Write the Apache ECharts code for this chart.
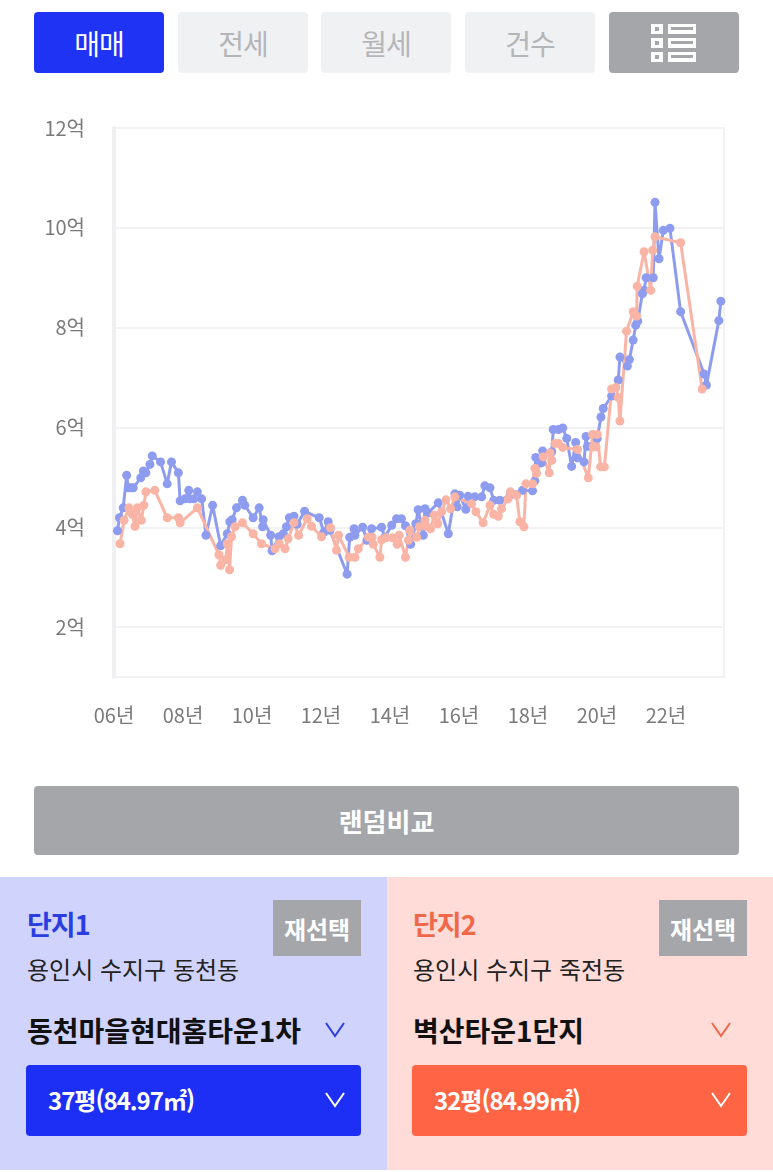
<!DOCTYPE html>
<html lang="ko">
<head>
<meta charset="utf-8">
<title>단지 비교</title>
<script src="https://cdn.jsdelivr.net/npm/echarts@6/dist/echarts.min.js"></script>
<style>
  html, body { margin: 0; padding: 0; background: #fff; }
  body { position: relative; width: 773px; height: 1172px; overflow: hidden;
         font-family: "Noto Sans CJK KR", "Noto Sans", sans-serif; }
  .abs { position: absolute; }
  .btn { position: absolute; display: flex; align-items: center; justify-content: center;
         border-radius: 4px; box-sizing: border-box; }
  .tab { top: 12px; width: 130px; height: 61px; font-size: 28px; background: #f0f1f3; color: #b4b5b8; letter-spacing: -1px; }
  .tab.on { background: #1f33f5; color: #fff; }
  .gray { background: #a5a6a9; color: #fff; font-weight: 700; }
  .row { position: absolute; white-space: nowrap; line-height: 1; }
  .chev { position: absolute; }
  #chart { position: absolute; left: 0; top: 90px; width: 773px; height: 680px; }
</style>
</head>
<body>
<div class="btn tab on" style="left:34px">매매</div>
<div class="btn tab" style="left:178px">전세</div>
<div class="btn tab" style="left:321px">월세</div>
<div class="btn tab" style="left:465px">건수</div>
<div class="btn gray" style="left:609px;top:12px;width:130px;height:61px"></div>
<svg class="abs" style="left:651px;top:24px" width="46" height="38">
  <g fill="#fff">
    <rect x="0" y="0" width="12" height="10"/><rect x="0" y="14" width="12" height="10"/><rect x="0" y="28" width="12" height="10"/>
    <rect x="17" y="0" width="28" height="10"/><rect x="17" y="14" width="28" height="10"/><rect x="17" y="28" width="28" height="10"/>
  </g>
  <g fill="#a5a6a9">
    <rect x="4" y="3" width="4" height="4"/><rect x="4" y="17" width="4" height="4"/><rect x="4" y="31" width="4" height="4"/>
    <rect x="20" y="3" width="22" height="3"/><rect x="20" y="17" width="22" height="3"/><rect x="20" y="31" width="22" height="3"/>
  </g>
</svg>

<div id="chart"></div>

<div class="btn gray" style="left:34px;top:786px;width:705px;height:69px;font-size:26px">랜덤비교</div>

<div class="abs" style="left:0;top:877px;width:387px;height:293px;background:#d0d3fc"></div>
<div class="abs" style="left:387px;top:877px;width:386px;height:293px;background:#ffdcd7"></div>

<div class="row" style="left:27px;top:910px;font-size:27px;font-weight:700;color:#2a3ee0;letter-spacing:-1px">단지1</div>
<div class="btn gray" style="left:273px;top:900px;width:88px;height:56px;font-size:24px;border-radius:0">재선택</div>
<div class="row" style="left:27px;top:957px;font-size:24px;color:#222">용인시 수지구 동천동</div>
<div class="row" style="left:27px;top:1016px;font-size:28px;font-weight:700;color:#111">동천마을현대홈타운1차</div>
<svg class="chev" style="left:325px;top:1022px" width="20" height="16"><polyline points="1,1 10,14 19,1" fill="none" stroke="#2a3ee0" stroke-width="2"/></svg>
<div class="btn" style="left:26px;top:1065px;width:335px;height:71px;background:#1d2ff5"></div>
<div class="row" style="left:48px;top:1088px;font-size:24px;font-weight:700;color:#fff;letter-spacing:-1px">37평(84.97㎡)</div>
<svg class="chev" style="left:325px;top:1092px" width="20" height="16"><polyline points="1,1 10,14 19,1" fill="none" stroke="#fff" stroke-width="2"/></svg>

<div class="row" style="left:413px;top:910px;font-size:27px;font-weight:700;color:#f0684a;letter-spacing:-1px">단지2</div>
<div class="btn gray" style="left:659px;top:900px;width:88px;height:56px;font-size:24px;border-radius:0">재선택</div>
<div class="row" style="left:413px;top:957px;font-size:24px;color:#222">용인시 수지구 죽전동</div>
<div class="row" style="left:413px;top:1016px;font-size:28px;font-weight:700;color:#111">벽산타운1단지</div>
<svg class="chev" style="left:711px;top:1022px" width="20" height="16"><polyline points="1,1 10,14 19,1" fill="none" stroke="#f0684a" stroke-width="2"/></svg>
<div class="btn" style="left:412px;top:1065px;width:335px;height:71px;background:#ff6544"></div>
<div class="row" style="left:434px;top:1088px;font-size:24px;font-weight:700;color:#fff;letter-spacing:-1px">32평(84.99㎡)</div>
<svg class="chev" style="left:711px;top:1092px" width="20" height="16"><polyline points="1,1 10,14 19,1" fill="none" stroke="#fff" stroke-width="2"/></svg>

<script>
// x는 2006년 1월부터의 개월 수, y는 억 단위
var xTickValues = [0, 24, 48, 72, 96, 120, 144, 168, 192];
var xTickLabels = ['06년', '08년', '10년', '12년', '14년', '16년', '18년', '20년', '22년'];
var yTickValues = [2, 4, 6, 8, 10, 12];

var complex1Months = [1.2, 1.9, 3.2, 4.4, 5.0, 6.0, 6.7, 9.3, 10.2, 11.1, 12.5, 13.3, 16.2, 18.5, 20.0, 22.4, 23.0, 24.7, 26.0, 26.4,
  27.8, 29.0, 30.5, 32.0, 34.3, 37.1, 39.4, 40.3, 41.1, 42.6, 44.7, 45.5, 48.4, 50.5, 51.7, 51.9, 54.5, 55.0, 57.4, 58.9,
  60.0, 61.0, 62.6, 63.7, 66.3, 71.4, 73.0, 74.5, 75.1, 81.1, 82.0, 83.5, 83.8, 86.5, 88.0, 89.6, 93.1, 94.2, 96.6, 98.3,
  100.0, 101.4, 103.2, 105.0, 105.8, 107.6, 108.2, 109.3, 112.8, 116.3, 118.6, 119.4, 120.3, 122.4, 123.2, 125.5, 127.9, 129.0, 130.8, 132.1,
  134.2, 137.9, 140.0, 142.1, 145.6, 146.4, 146.7, 148.7, 149.1, 152.3, 152.8, 154.6, 156.1, 157.5, 159.2, 160.6, 161.2, 163.5, 164.2, 164.7,
  168.1, 169.4, 170.2, 173.1, 175.4, 176.0, 178.6, 179.3, 180.6, 181.5, 182.2, 183.8, 184.4, 185.1, 187.6, 188.2, 189.6, 191.1, 193.4, 197.1,
  205.3, 206.1, 210.4, 211.1];
var complex1Values = [3.93, 4.19, 4.39, 5.04, 4.79, 4.79, 4.79, 4.99, 5.13, 5.09, 5.26, 5.43, 5.31, 4.87, 5.31, 5.09, 4.53, 4.57, 4.74, 4.57,
  4.57, 4.71, 4.57, 3.84, 4.44, 3.63, 3.87, 4.11, 4.15, 4.39, 4.54, 4.44, 4.19, 4.39, 4.01, 4.15, 3.84, 3.53, 3.81, 3.87,
  4.01, 4.19, 4.22, 4.06, 4.32, 4.19, 3.90, 4.11, 3.94, 3.06, 3.80, 3.97, 3.84, 4.00, 3.74, 3.97, 4.00, 3.80, 4.04, 4.17,
  4.17, 4.03, 3.66, 4.07, 4.35, 3.84, 4.37, 4.29, 4.49, 3.87, 4.67, 4.41, 4.64, 4.36, 4.62, 4.61, 4.61, 4.83, 4.79, 4.54,
  4.54, 4.65, 4.65, 4.74, 4.73, 4.93, 5.40, 5.29, 5.53, 5.51, 5.96, 5.96, 5.99, 5.78, 5.22, 5.70, 5.39, 5.31, 5.82, 5.62,
  5.78, 6.21, 6.38, 6.63, 6.95, 7.41, 7.23, 7.36, 7.75, 8.05, 8.13, 8.68, 8.75, 9.00, 9.00, 10.51, 9.38, 9.95, 9.99, 8.32,
  7.07, 6.85, 8.14, 8.53];

var complex2Months = [2.1, 3.5, 5.2, 6.4, 7.3, 8.1, 9.5, 10.4, 11.1, 14.2, 18.5, 22.4, 23.0, 29.0, 36.5, 37.1, 38.9, 39.4, 40.2, 40.9,
  42.1, 44.7, 48.4, 51.3, 56.0, 57.5, 59.5, 60.6, 62.6, 64.2, 67.2, 68.7, 72.2, 75.3, 77.4, 78.1, 81.8, 83.8, 85.0, 88.5,
  89.8, 90.2, 92.5, 93.1, 94.6, 96.9, 98.5, 99.2, 101.4, 102.4, 102.9, 105.3, 106.2, 108.2, 108.5, 110.1, 111.4, 112.6, 114.0, 115.5,
  117.1, 118.6, 124.4, 125.9, 128.4, 130.8, 132.1, 133.7, 134.8, 137.1, 137.9, 140.0, 141.2, 142.6, 143.3, 145.6, 146.4, 147.0, 149.3, 151.4,
  151.7, 152.3, 153.4, 154.6, 156.1, 161.2, 165.0, 166.5, 166.7, 167.7, 168.1, 169.3, 170.6, 173.1, 174.6, 175.4, 176.0, 178.3, 180.6, 181.8,
  182.0, 184.4, 186.7, 187.4, 188.2, 197.1, 204.6];
var complex2Values = [3.67, 4.14, 4.39, 4.26, 4.02, 4.39, 4.14, 4.44, 4.71, 4.74, 4.19, 4.19, 4.09, 4.39, 3.45, 3.24, 3.35, 3.67, 3.15, 3.81,
  4.01, 4.09, 3.87, 3.67, 3.57, 3.67, 3.57, 3.77, 4.09, 3.84, 4.17, 4.02, 3.81, 3.99, 3.54, 3.84, 3.40, 3.40, 3.57, 3.80,
  3.80, 3.66, 3.40, 3.75, 3.79, 3.79, 3.66, 3.84, 3.40, 3.74, 3.94, 3.80, 4.01, 4.14, 4.02, 3.97, 4.24, 4.07, 4.31, 4.55,
  4.37, 4.61, 4.47, 4.31, 4.09, 4.44, 4.26, 4.22, 4.37, 4.57, 4.71, 4.64, 4.11, 4.01, 4.87, 4.87, 5.18, 5.08, 5.41, 5.09,
  5.49, 5.34, 5.68, 5.68, 5.60, 5.56, 4.99, 5.86, 5.61, 5.61, 5.86, 5.21, 5.21, 6.77, 6.80, 6.60, 6.13, 7.93, 8.32, 8.23,
  8.83, 9.52, 8.75, 9.55, 9.82, 9.70, 6.77];

function toPairs(xs, ys) {
  var list = [];
  for (var i = 0; i < xs.length; i++) {
    list.push([xs[i], ys[i]]);
  }
  return list;
}

var myChart = echarts.init(document.getElementById('chart'), null, { renderer: 'canvas' });
var labelFont = { color: '#7a7a7a', fontSize: 20, fontFamily: '"Noto Sans CJK KR"' };

myChart.setOption({
  animation: false,
  grid: {
    show: true,
    left: 114,
    right: 49,
    top: 38,
    height: 549,
    borderColor: '#f2f2f4',
    borderWidth: 2
  },
  xAxis: {
    type: 'value',
    min: 0,
    max: 212.2,
    splitLine: { show: false },
    axisLine: { show: false },
    axisTick: { show: false, customValues: xTickValues },
    axisLabel: {
      customValues: xTickValues,
      margin: 28,
      color: labelFont.color,
      fontSize: labelFont.fontSize,
      fontFamily: labelFont.fontFamily,
      formatter: function (value) {
        return xTickLabels[xTickValues.indexOf(value)] || '';
      }
    }
  },
  yAxis: {
    type: 'value',
    min: 1,
    max: 12,
    axisLine: { show: true, onZero: false, lineStyle: { color: '#f0f0f2', width: 4 } },
    axisTick: { show: false, customValues: yTickValues },
    splitLine: { show: true, lineStyle: { color: '#f2f2f4', width: 2 } },
    axisLabel: {
      customValues: yTickValues,
      margin: 29,
      color: labelFont.color,
      fontSize: labelFont.fontSize,
      fontFamily: labelFont.fontFamily,
      formatter: function (value) {
        return value + '억';
      }
    }
  },
  series: [
    {
      name: '동천마을현대홈타운1차',
      type: 'line',
      symbol: 'circle',
      symbolSize: 9,
      clip: false,
      itemStyle: { color: '#8e9cf0' },
      lineStyle: { color: '#8e9cf0', width: 3 },
      data: toPairs(complex1Months, complex1Values)
    },
    {
      name: '벽산타운1단지',
      type: 'line',
      symbol: 'circle',
      symbolSize: 9,
      clip: false,
      itemStyle: { color: '#f9b4a5' },
      lineStyle: { color: '#f9b4a5', width: 3 },
      data: toPairs(complex2Months, complex2Values)
    }
  ]
});
</script>
</body>
</html>
